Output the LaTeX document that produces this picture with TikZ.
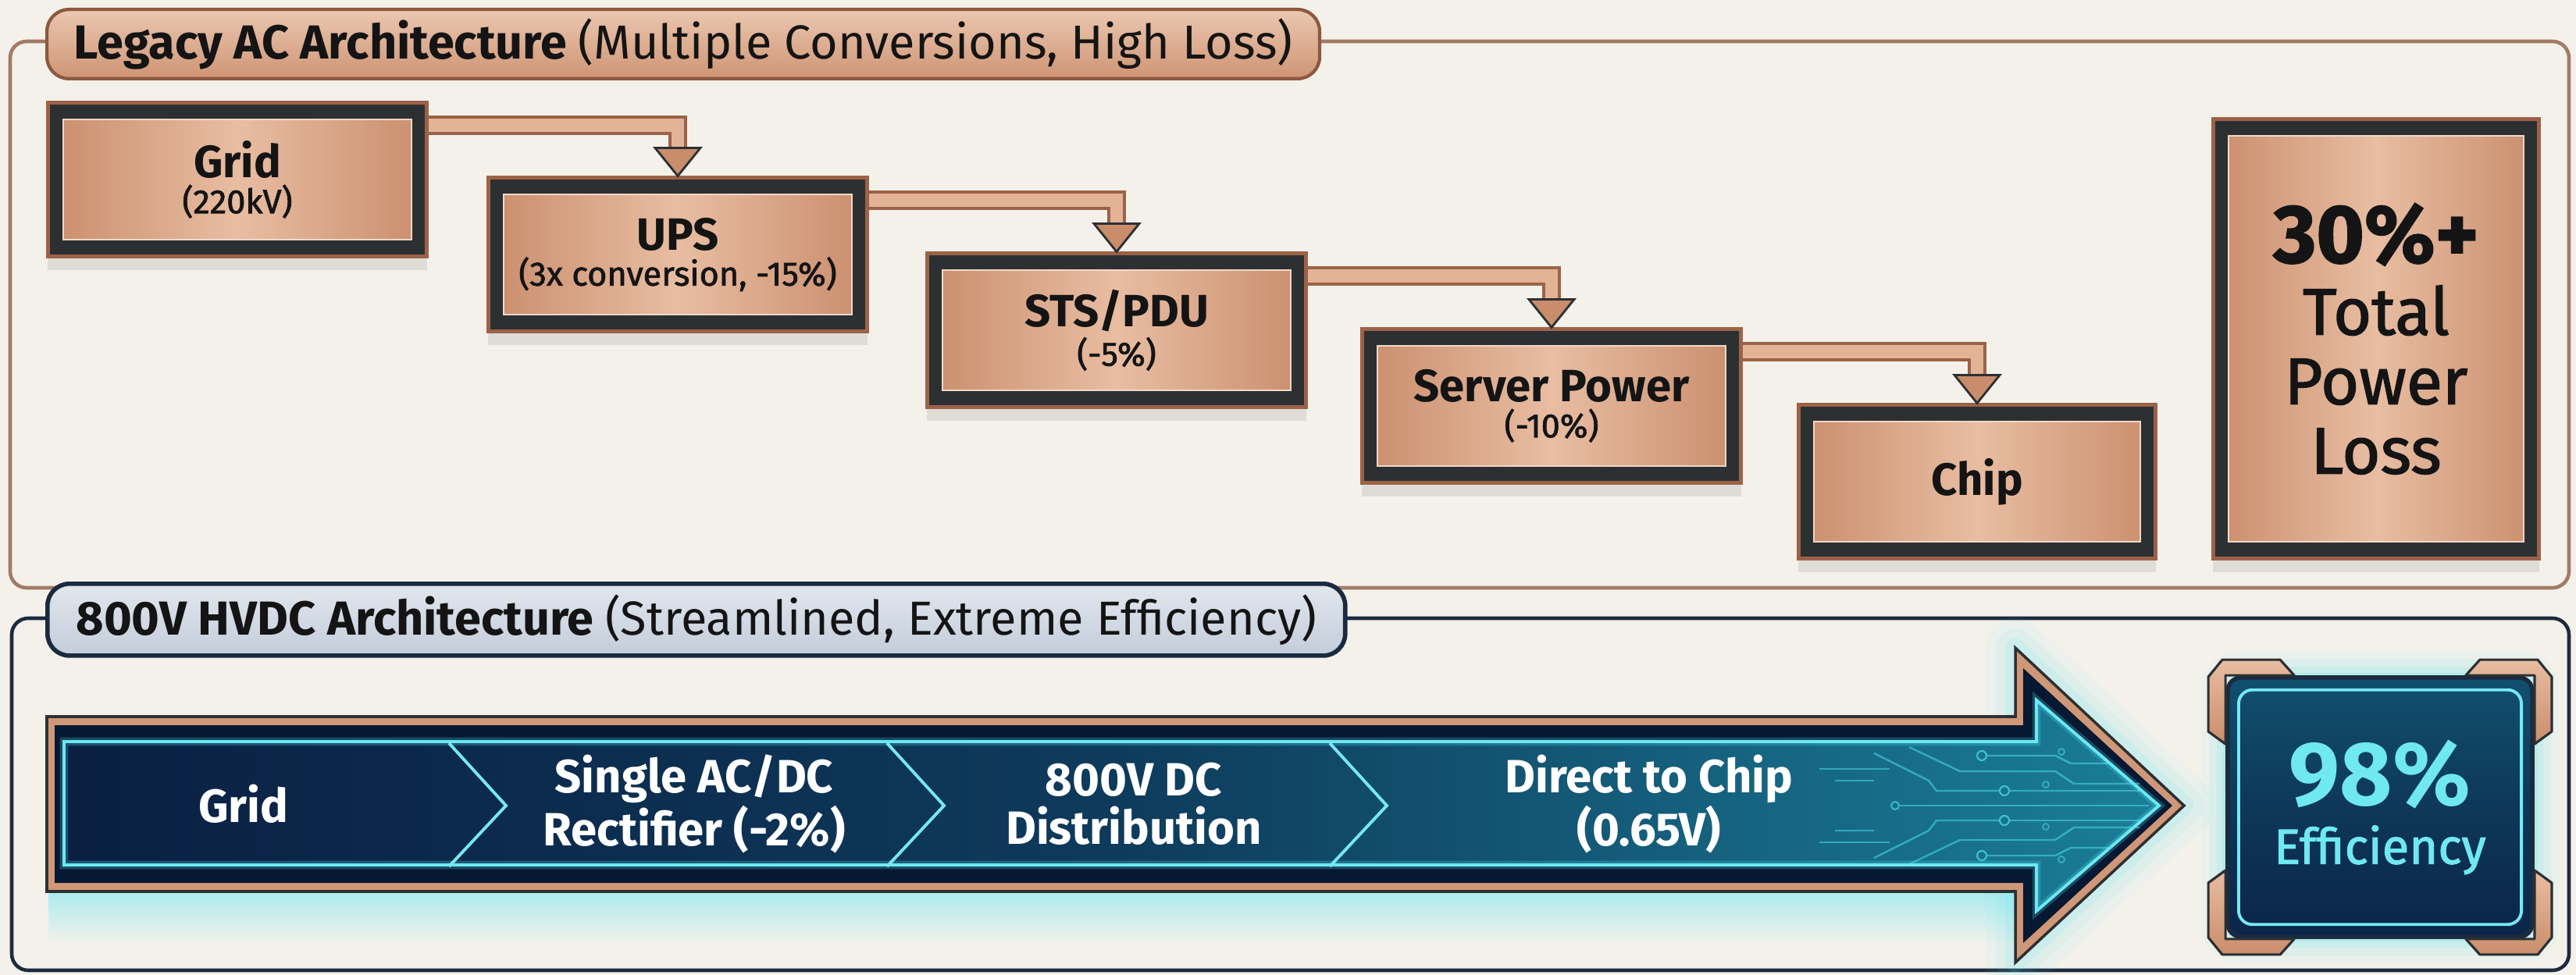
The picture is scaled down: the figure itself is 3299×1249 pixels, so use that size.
\documentclass[tikz,border=0pt]{standalone}
\usepackage{fontspec}
\setmainfont{Fira Sans}
\newfontfamily\firamd{Fira Sans}[FakeBold=1.6]
\usetikzlibrary{calc,shadows}
\definecolor{bg}{HTML}{F4F1EB}
\definecolor{cuD}{HTML}{9C6247}
\definecolor{cuM}{HTML}{C98D6C}
\definecolor{cuL}{HTML}{E8BDA2}
\definecolor{frm}{HTML}{2C3032}
\definecolor{ink}{HTML}{141414}
\definecolor{navy}{HTML}{0A1F42}
\definecolor{navyD}{HTML}{071832}
\definecolor{teal}{HTML}{135C7A}
\definecolor{tealL}{HTML}{1A7E98}
\definecolor{cyanG}{HTML}{52E4F0}
\definecolor{navyL}{HTML}{1B2B3F}
\definecolor{tabBa}{HTML}{E2E7EE}
\definecolor{tabBb}{HTML}{C3CCDA}
\definecolor{effT}{HTML}{6FE8F2}
\definecolor{frameCu}{HTML}{A27A66}
\newcommand\boxttl[1]{{\fontsize{16.5}{19}\selectfont\bfseries #1}}
\newcommand\boxsb[1]{{\fontsize{12.3}{14}\selectfont\firamd #1}}
\begin{document}
\begin{tikzpicture}[x=0.01cm,y=-0.01cm,
  cbox/.style={draw=cuD, line width=1.4pt, fill=frm, text=ink, align=center,
    minimum width=4.85cm, minimum height=1.96cm,
    drop shadow={opacity=0.18, shadow xshift=0pt, shadow yshift=-5pt},
    path picture={
      \shade[left color=cuM, right color=cuM, middle color=cuL]
        ([xshift=5.5pt,yshift=-6pt]path picture bounding box.north west) rectangle
        ([xshift=-5.5pt,yshift=6pt]path picture bounding box.south east);
      \draw[cuL!60!white, line width=0.6pt]
        ([xshift=5.5pt,yshift=-6pt]path picture bounding box.north west) rectangle
        ([xshift=-5.5pt,yshift=6pt]path picture bounding box.south east);}},
  tabcu/.style={draw=cuD!90!black, line width=1.2pt, rounded corners=8pt,
    top color=cuL!85!white, bottom color=cuM!85!cuL, text=ink,
    font=\fontsize{17.4}{20}\selectfont, anchor=north west},
  tabbl/.style={draw=navyL, line width=1.6pt, rounded corners=8pt,
    top color=tabBa, bottom color=tabBb, text=ink,
    font=\fontsize{17.4}{20}\selectfont, anchor=north west},
  pipeO/.style={draw=cuD, line width=7pt, line join=miter},
  pipeI/.style={draw=cuL!80!cuM, line width=4.6pt, line join=miter},
  headst/.style={fill=cuM, draw=frm, line width=0.8pt, line join=miter},
  segtxt/.style={text=white, align=center, font=\fontsize{17}{17.5}\selectfont\bfseries},
  trace/.style={draw=cyanG, line width=0.7pt, opacity=0.5},
  brkt/.style={draw=frm, line width=0.9pt, line join=round}
]
\newcommand\cuconn[2]{%
  \draw[pipeO] ($(#1.north east)+(0,31)$) -| ($(#2.north)+(0,-34)$);
  \draw[pipeI] ($(#1.north east)+(0,31)$) -| ($(#2.north)+(0,-34)$);
  \draw[headst] ($(#2.north)+(-29,-36)$) -- ($(#2.north)+(29,-36)$) -- (#2.north) -- cycle;}
\newcommand\effbracket{%
  \shade[brkt, top color=cuL, bottom color=cuM] (-22,72) -- (-22,2) -- (-4,-20) -- (70,-20) -- (88,0) -- (0,0) -- (0,88) -- cycle;}
% background
\fill[bg] (0,0) rectangle (3299,1249);
\useasboundingbox (0,0) rectangle (3299,1249);

% ---------- top panel ----------
\draw[frameCu, line width=1.3pt, rounded corners=6pt] (13,53) rectangle (3290,753);
\node[tabcu, minimum width=16.29cm, minimum height=0.88cm] (tabA) at (58,10)
  {\bfseries Legacy AC Architecture \mdseries(Multiple Conversions, High Loss)};

\node[cbox] (grid) at (304,230) {\boxttl{Grid}\\[1pt]\boxsb{(220kV)}};
\node[cbox] (ups) at (868,326) {\boxttl{UPS}\\[1pt]\boxsb{(3x conversion, -15\%)}};
\node[cbox] (sts) at (1430,423) {\boxttl{STS/PDU}\\[1pt]\boxsb{(-5\%)}};
\node[cbox] (srv) at (1987,520) {\boxttl{Server Power}\\[1pt]\boxsb{(-10\%)}};
\node[cbox, minimum width=4.57cm] (chip) at (2532,617) {\boxttl{Chip}};
\node[cbox, minimum width=4.17cm, minimum height=5.62cm,
      font=\fontsize{24}{25.3}\selectfont\firamd] (loss) at (3043,434)
  {{\fontsize{30}{34}\selectfont\bfseries 30\%+}\\[1pt]Total\\Power\\Loss};

\cuconn{grid}{ups}
\cuconn{ups}{sts}
\cuconn{sts}{srv}
\cuconn{srv}{chip}

% ---------- bottom panel ----------
\draw[navyL, line width=1.3pt, rounded corners=6pt] (15,792) rectangle (3290,1243);
\node[tabbl, minimum width=16.61cm, minimum height=0.92cm] (tabB) at (58,745)
  {\bfseries 800V HVDC Architecture \mdseries(Streamlined, Extreme Efficiency)};

% glow under arrow
\shade[top color=cyanG!45!bg, bottom color=bg] (62,1142) rectangle (2585,1210);
\foreach \g/\o in {22/0.06,14/0.08,7/0.12}{
  \draw[cyanG, opacity=\o, line width=\g pt, line join=round] (2581,1142) -- (2581,1233) -- (2797,1032) -- (2581,830) -- (2581,918);}
% big arrow
\draw[frm, line width=1pt, fill=cuM!80!cuL] (60,918) -- (2581,918) -- (2581,830) -- (2797,1032)
  -- (2581,1233) -- (2581,1142) -- (60,1142) -- cycle;
\fill[navyD] (70,929) -- (2591,929) -- (2591,856) -- (2782,1032) -- (2591,1208) -- (2591,1131)
  -- (70,1131) -- cycle;
\shade[left color=navy, right color=tealL, middle color=navy!55!teal]
  (82,950) -- (2608,950) -- (2608,897) -- (2765,1032) -- (2608,1167) -- (2608,1108)
  -- (82,1108) -- cycle;
\draw[cyanG, line width=3pt, opacity=0.25] (82,950) -- (2608,950) -- (2608,897) -- (2765,1032)
  -- (2608,1167) -- (2608,1108) -- (82,1108) -- cycle;
\draw[cyanG!85!white, line width=1.1pt] (82,950) -- (2608,950) -- (2608,897) -- (2765,1032)
  -- (2608,1167) -- (2608,1108) -- (82,1108) -- cycle;
% chevrons
\foreach \cx in {575,1136,1703}{
  \draw[cyanG!80!white, line width=1.1pt] (\cx,952) -- ($(\cx,952)+(73,80)$) -- ($(\cx,952)+(0,158)$);}
% circuit traces (upper half, mirrored below)
\foreach \sc in {0,1}{
\begin{scope}[shift={(0,2064*\sc)}, yscale=1-2*\sc]
  \draw[trace] (2445,957) -- (2510,988) -- (2632,988) -- (2656,1004) -- (2740,1004);
  \draw[trace] (2545,968) -- (2632,968) -- (2652,978) -- (2705,978);
  \draw[trace] (2400,965) -- (2470,1000) -- (2480,1013) -- (2560,1013);
  \draw[trace] (2574,1013) -- (2745,1013);
  \draw[trace] (2330,985) -- (2420,985);
  \draw[trace] (2350,1000) -- (2400,1000);
  \draw[cyanG, line width=0.6pt, opacity=0.7] (2538,968) circle[radius=6];
  \draw[cyanG, line width=0.6pt, opacity=0.7] (2567,1013) circle[radius=6];
  \draw[cyanG, line width=0.5pt, opacity=0.5] (2640,963) circle[radius=4];
  \draw[cyanG, line width=0.5pt, opacity=0.5] (2620,1005) circle[radius=4];
\end{scope}}
\draw[trace] (2433,1032) -- (2752,1032);
\draw[cyanG, line width=0.6pt, opacity=0.6] (2427,1032) circle[radius=5];
% segment labels
\node[segtxt] (sg1) at (312,1030) {Grid};
\node[segtxt] (sg2) at (889,1030) {Single AC/DC\\Rectifier (-2\%)};
\node[segtxt] (sg3) at (1452,1030) {800V DC\\Distribution};
\node[segtxt] (sg4) at (2112,1030) {Direct to Chip\\(0.65V)};

% efficiency box glow
\foreach \g/\o in {34/0.06,24/0.09,14/0.13,6/0.2}{
  \fill[cyanG, opacity=\o, rounded corners=14pt] ($(2853,868)+(-\g,-\g)$) rectangle ($(3243,1200)+(\g,\g)$);}
\node[draw=navyL, line width=1.6pt, rounded corners=5pt, top color=teal!80!navy,
      bottom color=navy!90!teal, middle color=navy!60!teal,
      minimum width=3.9cm, minimum height=3.32cm, align=center, text=effT,
      path picture={\draw[cyanG!80!white, line width=1.1pt]
        ([xshift=4pt,yshift=-4.5pt]path picture bounding box.north west) rectangle
        ([xshift=-4pt,yshift=4.5pt]path picture bounding box.south east);}]
  (eff) at (3048,1034)
  {{\fontsize{33}{36}\selectfont\bfseries 98\%}\\[5pt]{\fontsize{18}{20}\selectfont\firamd Efficiency}};
% copper corner brackets
\begin{scope}[shift={(eff.north west)}] \effbracket \end{scope}
\begin{scope}[shift={(eff.north east)}, xscale=-1] \effbracket \end{scope}
\begin{scope}[shift={(eff.south west)}, yscale=-1] \effbracket \end{scope}
\begin{scope}[shift={(eff.south east)}, xscale=-1, yscale=-1] \effbracket \end{scope}
\end{tikzpicture}
\end{document}
